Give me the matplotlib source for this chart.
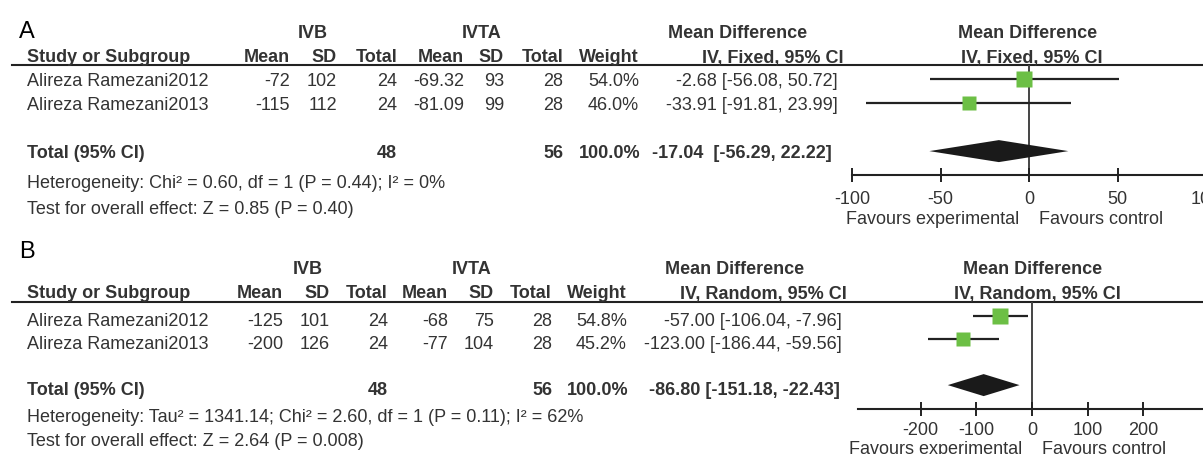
import matplotlib.pyplot as plt
from matplotlib.transforms import blended_transform_factory

# ---- data --------------------------------------------------------------
studies = ['Alireza Ramezani2012', 'Alireza Ramezani2013']

# panel A : fixed effect
a_ivb_mean = [-72, -115]
a_ivb_sd = [102, 112]
a_ivb_n = [24, 24]
a_ivta_mean = [-69.32, -81.09]
a_ivta_sd = [93, 99]
a_ivta_n = [28, 28]
a_weight = [54.0, 46.0]
a_md = [-2.68, -33.91]
a_lo = [-56.08, -91.81]
a_hi = [50.72, 23.99]
a_total = (-17.04, -56.29, 22.22)
a_ticks = [-100, -50, 0, 50, 100]
a_het = 'Heterogeneity: Chi² = 0.60, df = 1 (P = 0.44); I² = 0%'
a_test = 'Test for overall effect: Z = 0.85 (P = 0.40)'

# panel B : random effects
b_ivb_mean = [-125, -200]
b_ivb_sd = [101, 126]
b_ivb_n = [24, 24]
b_ivta_mean = [-68, -77]
b_ivta_sd = [75, 104]
b_ivta_n = [28, 28]
b_weight = [54.8, 45.2]
b_md = [-57.00, -123.00]
b_lo = [-106.04, -186.44]
b_hi = [-7.96, -59.56]
b_total = (-86.80, -151.18, -22.43)
b_ticks = [-200, -100, 0, 100, 200]
b_het = 'Heterogeneity: Tau² = 1341.14; Chi² = 2.60, df = 1 (P = 0.11); I² = 62%'
b_test = 'Test for overall effect: Z = 2.64 (P = 0.008)'

# ---- style -------------------------------------------------------------
W, H = 1203, 454
FS = 13
TXT = '#333333'
LINE = '#222222'
GREEN = '#6cbf45'
plt.rcParams['font.family'] = ['Liberation Sans', 'DejaVu Sans']

fig = plt.figure(figsize=(W / 100, H / 100), dpi=100)
bg = fig.add_axes([0, 0, 1, 1])
bg.set_xlim(0, W)
bg.set_ylim(H, 0)
bg.axis('off')


def txt(x, y, s, ha='left', bold=False, **kw):
    # +1 px: matplotlib's 'center' sits a touch above the glyph middle
    bg.text(x, y + 1, s, ha=ha, va='center', fontsize=FS, color=TXT,
            fontweight='bold' if bold else 'normal', **kw)


def draw_panel(label, method, d, lay):
    rows = [lay['row0'] + i * lay['dy'] for i in range(len(studies))]
    total_y = lay['row0'] + 3 * lay['dy']
    off = lay['text_off']
    c = lay['cols']

    bg.text(19, lay['label_y'], label, ha='left', va='center', fontsize=17,
            color='black', family=['Liberation Sans Narrow', 'Liberation Sans'])

    # group headers
    txt(c['ivb_c'], lay['group_y'], 'IVB', ha='center', bold=True)
    txt(c['ivta_c'], lay['group_y'], 'IVTA', ha='center', bold=True)
    txt(c['md_c'], lay['group_y'], 'Mean Difference', ha='center', bold=True)
    txt(c['plot_c'], lay['group_y'], 'Mean Difference', ha='center', bold=True)

    # column headers
    hy = lay['head_y']
    txt(27, hy, 'Study or Subgroup', bold=True)
    for key, name in [('m1', 'Mean'), ('s1', 'SD'), ('n1', 'Total'),
                      ('m2', 'Mean'), ('s2', 'SD'), ('n2', 'Total'),
                      ('w', 'Weight')]:
        txt(c[key], hy, name, ha='right', bold=True)
    txt(c['ci'] + 5, hy, f'IV, {method}, 95% CI', ha='right', bold=True)
    txt(c['plot_c'] + 4, hy, f'IV, {method}, 95% CI', ha='center', bold=True)
    bg.plot([12, W], [lay['line_y']] * 2, color=LINE, lw=1.5)

    # study rows
    for i, y in enumerate(rows):
        y = y + off
        txt(27, y, studies[i])
        txt(c['m1'], y, f"{d['ivb_mean'][i]:g}", ha='right')
        txt(c['s1'], y, f"{d['ivb_sd'][i]}", ha='right')
        txt(c['n1'], y, f"{d['ivb_n'][i]}", ha='right')
        txt(c['m2'], y, f"{d['ivta_mean'][i]:g}", ha='right')
        txt(c['s2'], y, f"{d['ivta_sd'][i]}", ha='right')
        txt(c['n2'], y, f"{d['ivta_n'][i]}", ha='right')
        txt(c['w'], y, f"{d['weight'][i]:.1f}%", ha='right')
        txt(c['ci'], y, f"{d['md'][i]:.2f} [{d['lo'][i]:.2f}, {d['hi'][i]:.2f}]",
            ha='right')

    # total row
    md, lo, hi = d['total']
    ty = total_y + off
    txt(27, ty, 'Total (95% CI)', bold=True)
    txt(c['n1'], ty, f"{sum(d['ivb_n'])}", ha='right', bold=True)
    txt(c['n2'], ty, f"{sum(d['ivta_n'])}", ha='right', bold=True)
    txt(c['w'] + 2, ty, f"{sum(d['weight']):.1f}%", ha='right', bold=True)
    txt(c['tot_ci'], ty, f"{md:.2f}{lay['sep']}[{lo:.2f}, {hi:.2f}]",
        ha='right', bold=True)
    txt(27, lay['het_y'], d['het'])
    txt(27, lay['test_y'], d['test'])

    # forest plot
    xmin, xmax = lay['xlim']
    left = lay['zero'] + xmin * lay['scale']
    width = (xmax - xmin) * lay['scale']
    ax = fig.add_axes([left / W, (H - lay['axis_y']) / H, width / W,
                       (lay['axis_y'] - lay['line_y']) / H])
    ax.set_xlim(xmin, xmax)
    ax.set_ylim(lay['axis_y'], lay['line_y'])
    ax.patch.set_visible(False)
    for s in ['left', 'right', 'top']:
        ax.spines[s].set_visible(False)
    ax.spines['bottom'].set_color(LINE)
    ax.spines['bottom'].set_linewidth(1.5)
    ax.set_yticks([])
    ax.set_xticks(d['ticks'])
    ax.set_xticklabels([str(t) for t in d['ticks']])
    ax.tick_params(axis='x', direction='inout', length=9.5, width=1.4,
                   color=LINE, pad=lay['tick_pad'], labelsize=FS,
                   labelcolor=TXT)
    ax.axvline(0, color='#444444', lw=1.4, zorder=1)

    for i, y in enumerate(rows):
        ax.hlines(y, d['lo'][i], d['hi'][i], color=LINE, lw=1.6, zorder=2)
        ax.plot(d['md'][i], y, 's', color=GREEN, mec='none',
                ms=1.57 * d['weight'][i] ** 0.5, zorder=3)
    h = 11
    ax.fill([lo, md, hi, md], [total_y, total_y - h, total_y, total_y + h],
            color='#1a1a1a', lw=0, zorder=3)

    tr = blended_transform_factory(ax.transData, bg.transData)
    ax.text(0, lay['fav_y'], 'Favours experimental  ', transform=tr,
            ha='right', va='center', fontsize=FS, color=TXT, clip_on=False)
    ax.text(0, lay['fav_y'], '  Favours control', transform=tr,
            ha='left', va='center', fontsize=FS, color=TXT, clip_on=False)


panel_a = dict(ivb_mean=a_ivb_mean, ivb_sd=a_ivb_sd, ivb_n=a_ivb_n,
               ivta_mean=a_ivta_mean, ivta_sd=a_ivta_sd, ivta_n=a_ivta_n,
               weight=a_weight, md=a_md, lo=a_lo, hi=a_hi, total=a_total,
               ticks=a_ticks, het=a_het, test=a_test)
panel_b = dict(ivb_mean=b_ivb_mean, ivb_sd=b_ivb_sd, ivb_n=b_ivb_n,
               ivta_mean=b_ivta_mean, ivta_sd=b_ivta_sd, ivta_n=b_ivta_n,
               weight=b_weight, md=b_md, lo=b_lo, hi=b_hi, total=b_total,
               ticks=b_ticks, het=b_het, test=b_test)

layout_a = dict(label_y=32, group_y=32, head_y=57, line_y=64.5, row0=78.5,
                dy=24.2, text_off=1.5, het_y=183, test_y=209, axis_y=174.5,
                fav_y=219, tick_pad=7, sep='  ',
                xlim=(-100, 100), zero=1029, scale=1.77,
                cols=dict(ivb_c=313, ivta_c=482, md_c=738, plot_c=1028,
                          m1=290, s1=337, n1=397, m2=464, s2=504, n2=563,
                          w=639, ci=838, tot_ci=832))
layout_b = dict(label_y=252, group_y=268, head_y=293, line_y=302, row0=315.5,
                dy=23.2, text_off=4.5, het_y=417, test_y=440, axis_y=408.5,
                fav_y=449, tick_pad=5, sep=' ',
                xlim=(-312, 312), zero=1032, scale=0.557,
                cols=dict(ivb_c=308, ivta_c=472, md_c=735, plot_c=1033,
                          m1=283, s1=330, n1=388, m2=448, s2=494, n2=552,
                          w=627, ci=842, tot_ci=840))

draw_panel('A', 'Fixed', panel_a, layout_a)
draw_panel('B', 'Random', panel_b, layout_b)

fig.savefig('out.png', dpi=100)
